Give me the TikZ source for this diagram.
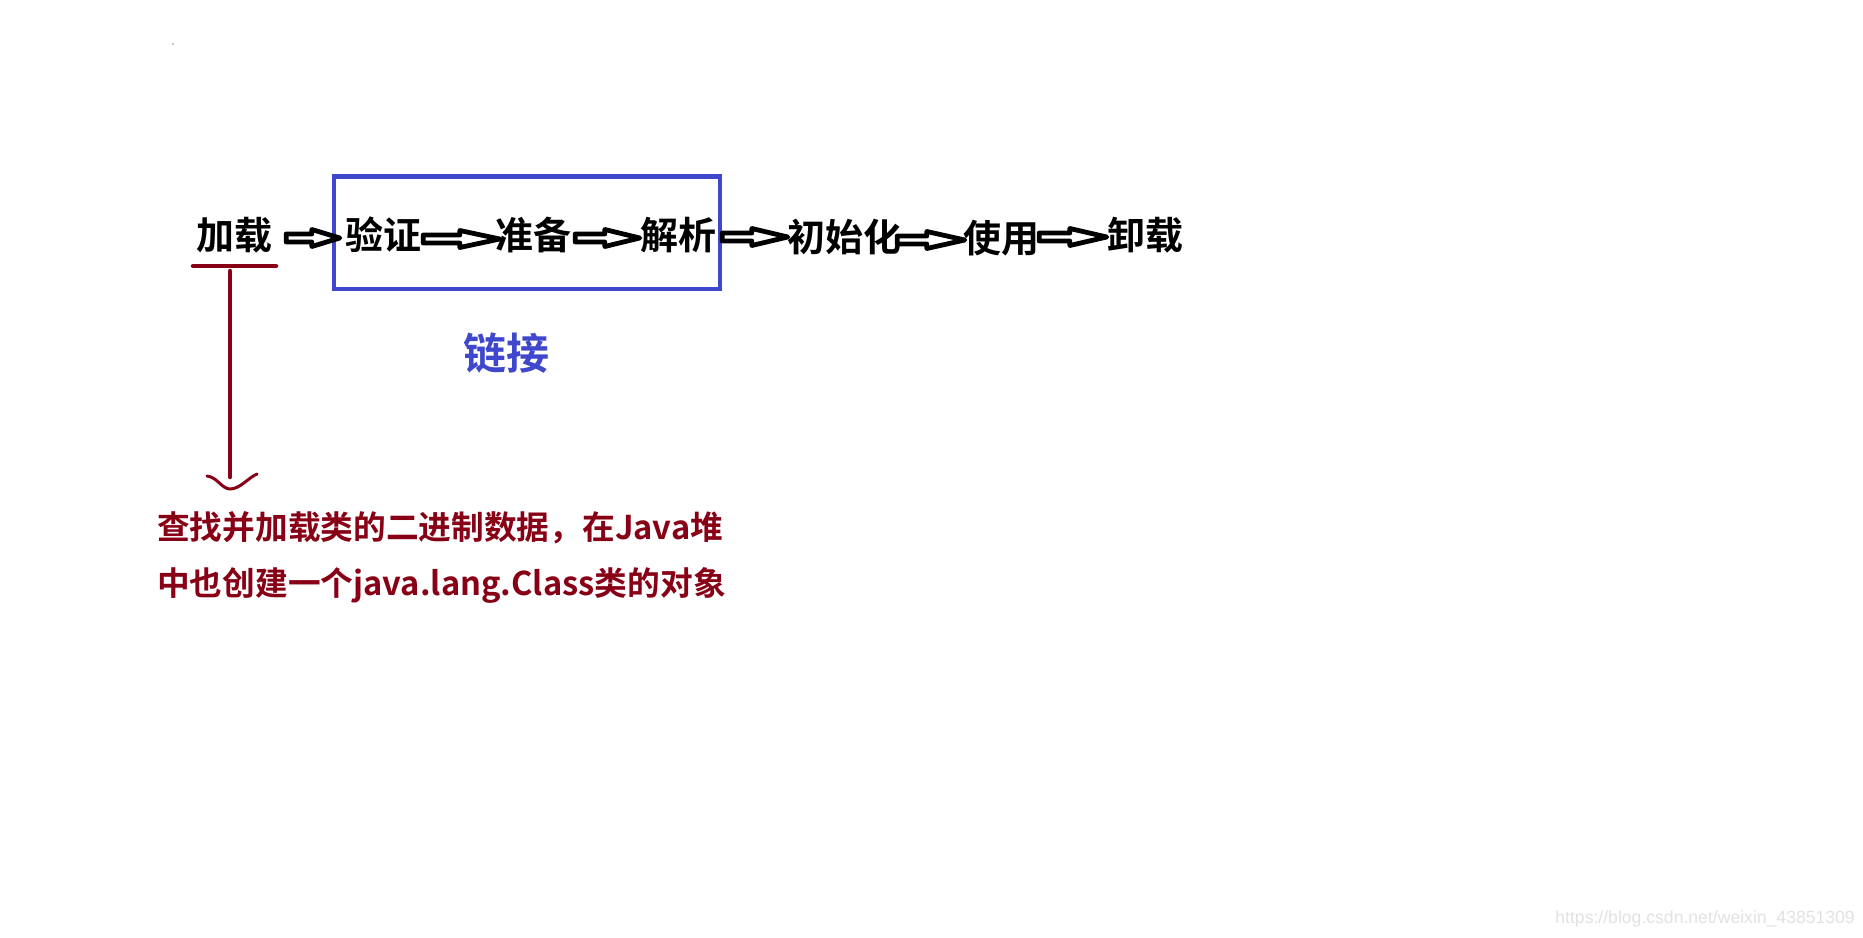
\documentclass[tikz,border=0pt]{standalone}
\usepackage{fontspec}
\setmainfont{Noto Sans CJK SC}[BoldFont={Noto Sans CJK SC Bold}]
\newfontfamily\wmfont{Liberation Sans}
\usetikzlibrary{calc}
\definecolor{paintblue}{HTML}{3F48CC}
\definecolor{paintred}{HTML}{880015}
\definecolor{wmgray}{HTML}{E2E2E2}
\tikzset{
  stagetext/.style={inner sep=0pt, font=\fontsize{38}{40}\selectfont\bfseries, text=black},
  harrowline/.style={draw=black, line width=4.8pt, line join=round, fill=white},
  linkbox/.style={draw=paintblue, line width=4.5pt, inner sep=0pt},
  linktext/.style={inner sep=0pt, font=\fontsize{43}{45}\selectfont\bfseries, text=paintblue},
  redtext/.style={inner sep=0pt, anchor=west, font=\fontsize{32.7}{34}\selectfont\bfseries, text=paintred},
  redline/.style={draw=paintred, line width=4.5pt, line cap=round},
  redhead/.style={draw=paintred, line width=3pt, line cap=round},
  wmtext/.style={inner sep=0pt, anchor=east, font=\wmfont\fontsize{17.6}{19}\selectfont, text=wmgray},
}
% #1 from node, #2 to node, #3 left gap, #4 right gap, #5 vertical offset, #6 head length
\newcommand\harrow[6]{%
  \draw[harrowline] let \p1=($(#1.east)+(#3,#5)$), \p2=($(#2.west)+(-#4,#5)$) in
    (\x1,\y1+4pt) -- (\x2-#6pt,\y1+4pt) -- (\x2-#6pt,\y1+8.5pt) -- (\x2,\y1)
    -- (\x2-#6pt,\y1-8.5pt) -- (\x2-#6pt,\y1-4pt) -- (\x1,\y1-4pt) -- cycle;}
\begin{document}
\begin{tikzpicture}[x=1pt,y=-1pt]
\useasboundingbox (0,0) rectangle (1863,937);
\fill[white] (0,0) rectangle (1863,937);
\fill[black!45] (173,44) circle (0.8);

% blue box around the linking stages
\node[linkbox, minimum width=386pt, minimum height=112.5pt] (box) at (527,232.75) {};

% stages
\node[stagetext] (load)   at (234,235)  {加载};
\node[stagetext] (verify) at (383,235)  {验证};
\node[stagetext] (prep)   at (533,235)  {准备};
\node[stagetext] (resolve) at (678,235) {解析};
\node[stagetext] (init)   at (844,237)  {初始化};
\node[stagetext] (use)    at (1001,238) {使用};
\node[stagetext] (unload) at (1145,235) {卸载};

% hollow arrows
\harrow{load}{verify}{14}{5}{3}{28}
\harrow{verify}{prep}{2}{-5}{4}{40}
\harrow{prep}{resolve}{4}{0}{3}{35}
\harrow{resolve}{init}{6}{-1}{2}{36}
\harrow{init}{use}{-4}{-2}{3}{38}
\harrow{use}{unload}{0}{0}{-1}{37}

% label of the box
\node[linktext] (link) at (506,353) {链接};

% red annotation
\coordinate (ulL) at (193,266);
\coordinate (ulR) at (276,266);
\draw[redline] (ulL) -- (ulR);
\coordinate (vtop) at (230,271);
\coordinate (vtip) at (230,489);
\draw[redline] (vtop) -- ($(vtip)+(0,-12)$);
\draw[redhead] ($(vtip)+(-23,-13)$) .. controls ($(vtip)+(-13,-12)$) and ($(vtip)+(-8,0)$) .. (vtip)
  .. controls ($(vtip)+(10,0)$) and ($(vtip)+(18,-11)$) .. ($(vtip)+(27,-15)$);

\node[redtext] (desc1) at (157,528) {查找并加载类的二进制数据，在Java堆};
\node[redtext] (desc2) at (157,586) {中也创建一个java.lang.Class类的对象};

% watermark
\node[wmtext] (wm) at (1855,919) {https://blog.csdn.net/weixin\_43851309};
\end{tikzpicture}
\end{document}
